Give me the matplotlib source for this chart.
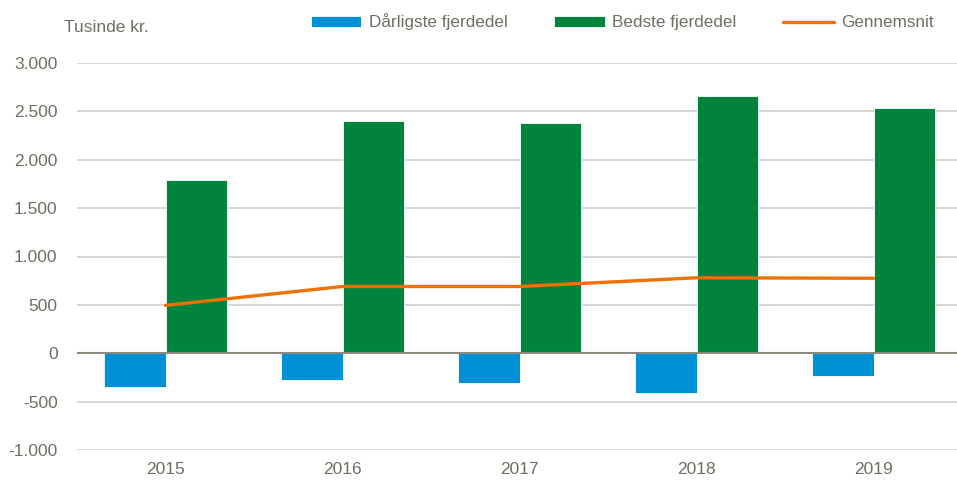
import matplotlib
matplotlib.use("Agg")
import matplotlib.pyplot as plt
import numpy as np

years = ["2015", "2016", "2017", "2018", "2019"]
worst_quarter = [-350, -280, -310, -410, -240]
best_quarter = [1790, 2400, 2380, 2660, 2540]
average = [495, 690, 690, 780, 775]
yticks = [-1000, -500, 0, 500, 1000, 1500, 2000, 2500, 3000]
ytick_labels = ["-1.000", "-500", "0", "500", "1.000", "1.500", "2.000", "2.500", "3.000"]

plt.rcParams['font.family'] = ['Liberation Sans', 'DejaVu Sans']
txt = "#6f6e62"
fs = 12.5
lfs = 12.3
W, H = 957, 484
fig = plt.figure(figsize=(W / 100, H / 100), dpi=100)
ax = fig.add_axes([77 / W, (H - 450) / H, 885 / W, 387 / H])

x = np.arange(len(years))
bw = 0.35
b1 = ax.bar(x - bw / 2, worst_quarter, width=bw, color="#0090d5", edgecolor="white", linewidth=0.6,
            label="Dårligste fjerdedel", zorder=3)
b2 = ax.bar(x + bw / 2, best_quarter, width=bw, color="#00843d", edgecolor="white", linewidth=0.6,
            label="Bedste fjerdedel", zorder=3)
l1, = ax.plot(x, average, color="#ee7203", linewidth=2.4, solid_capstyle="round",
              label="Gennemsnit", zorder=4)

ax.set_xlim(-0.5, len(years) - 0.5)
ax.set_ylim(-1000, 3000)
ax.set_yticks(yticks)
ax.set_yticklabels(ytick_labels)
ax.set_xticks(x)
ax.set_xticklabels(years)
ax.yaxis.grid(True, color="#d3d1c9", linewidth=1.2, zorder=0)
ax.axhline(0, color="#8c897f", linewidth=1.5, zorder=5)
for s in ax.spines.values():
    s.set_visible(False)
ax.tick_params(axis="both", length=0, labelsize=fs, colors=txt)
ax.tick_params(axis="y", pad=14)
ax.tick_params(axis="x", pad=9)

fig.text(64 / W, 1 - 28 / H, "Tusinde kr.", fontsize=fs, color=txt, va="center", ha="left")

leg = fig.legend([b1, b2, l1], ["Dårligste fjerdedel", "Bedste fjerdedel", "Gennemsnit"],
                 loc="center left", bbox_to_anchor=(311 / W, 1 - 22 / H), ncol=3, frameon=False,
                 fontsize=lfs, handlelength=2.95, handleheight=0.6, handletextpad=0.42,
                 columnspacing=2.75, borderaxespad=0, borderpad=0)
for t in leg.get_texts():
    t.set_color(txt)

fig.savefig("out.png", dpi=100)
